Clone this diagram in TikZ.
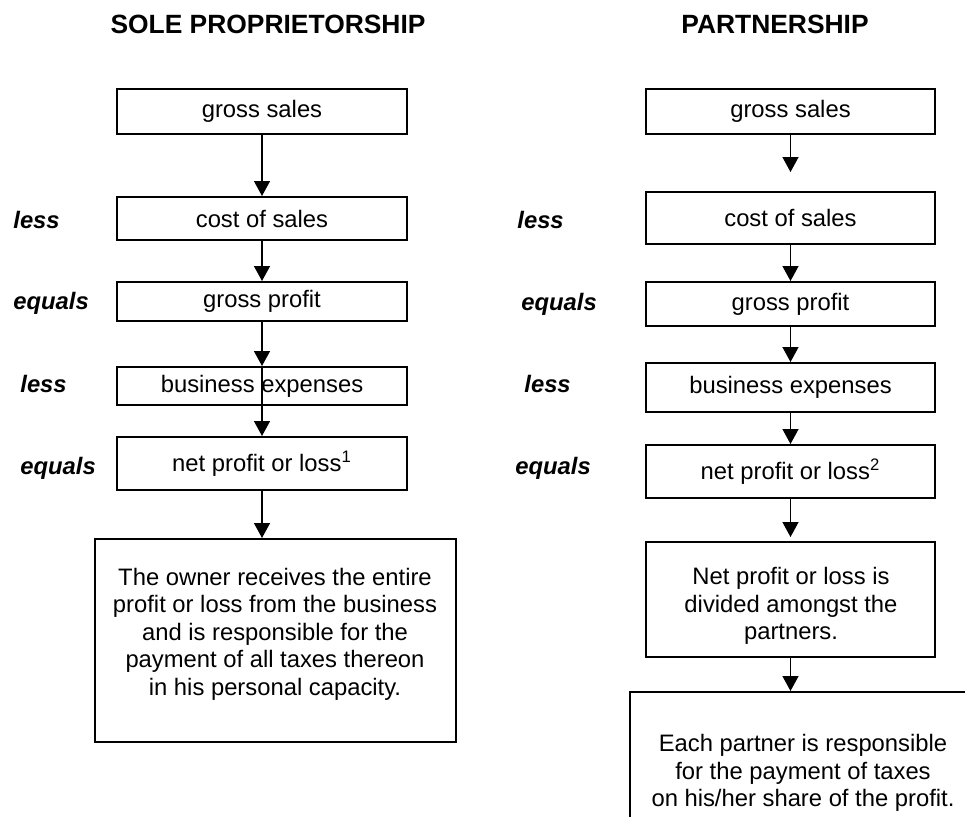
\documentclass[tikz,border=0pt]{standalone}
\usepackage{fontspec}
\setmainfont{Liberation Sans}
\usetikzlibrary{arrows.meta}
\begin{document}
\begin{tikzpicture}[x=0.5pt,y=-0.5pt,
  box/.style={draw,line width=1pt,inner sep=0pt,font=\fontsize{11.9}{13.75}\selectfont},
  txt/.style={inner sep=0pt,align=center,font=\fontsize{11.9}{13.75}\selectfont},
  lbl/.style={inner sep=0pt,anchor=base west,font=\fontsize{11.9}{13.75}\selectfont\bfseries\itshape},
  ttl/.style={inner sep=0pt,anchor=base,font=\fontsize{13.2}{15}\selectfont\bfseries},
  arr/.style={line width=0.7pt,-{Triangle[width=8pt,length=7.5pt]}}]
\useasboundingbox (0,0) rectangle (965,816);
\clip (0,0) rectangle (965,816);
% titles
\node[ttl] (tl) at (268,33) {SOLE PROPRIETORSHIP};
\node[ttl] (tr) at (775,33) {PARTNERSHIP};
% left column
\node[box,minimum width=145pt,minimum height=22.5pt] (lgs) at (262,111.5) {gross sales};
\node[box,minimum width=145pt,minimum height=21.5pt] (lcs) at (262,218.5) {cost of sales};
\node[box,minimum width=145pt,minimum height=19.5pt] (lgp) at (262,301.5) {gross profit};
\node[box,minimum width=145pt,minimum height=19pt] (lbe) at (262,386) {business expenses};
\node[box,minimum width=145pt,minimum height=26.5pt] (lnp) at (262,463.5) {net profit or loss\textsuperscript{1}};
\node[box,minimum width=180.5pt,minimum height=101.5pt] (lbig) at (275.5,640.5) {};
\node[txt] (lbigt) at (275,634) {The owner receives the entire\\profit or loss from the business\\and is responsible for the\\payment of all taxes thereon\\in his personal capacity.};
\node[lbl] (ll1) at (13,228) {less};
\node[lbl] (ll2) at (13,309) {equals};
\node[lbl] (ll3) at (20,392) {less};
\node[lbl] (ll4) at (20,474) {equals};
\draw[arr] (lgs.south) -- (lcs.north);
\draw[arr] (lcs.south) -- (lgp.north);
\draw[arr] (lgp.south) -- (lbe.north);
\draw[arr] (lbe.north) -- (lnp.north);
\draw[arr] (lnp.south) -- (lnp.south |- lbig.north);
% right column
\node[box,minimum width=144.5pt,minimum height=22.5pt] (rgs) at (790.5,111.5) {gross sales};
\node[box,minimum width=144.5pt,minimum height=26pt] (rcs) at (790.5,218) {cost of sales};
\node[box,minimum width=144.5pt,minimum height=22pt] (rgp) at (790.5,304) {gross profit};
\node[box,minimum width=144.5pt,minimum height=24.5pt] (rbe) at (790.5,387.5) {business expenses};
\node[box,minimum width=144.5pt,minimum height=26.5pt] (rnp) at (790.5,471.5) {net profit or loss\textsuperscript{2}};
\node[box,minimum width=144.5pt,minimum height=57.5pt] (rdiv) at (790.5,599.5) {};
\node[txt] (rdivt) at (791,606) {Net profit or loss is\\divided amongst the\\partners.};
\node[box,minimum width=185pt,minimum height=104pt] (rfin) at (815,796) {};
\node[txt] (rfint) at (803,773) {Each partner is responsible\\for the payment of taxes\\on his/her share of the profit.};
\node[lbl] (rl1) at (517,228) {less};
\node[lbl] (rl2) at (521,310) {equals};
\node[lbl] (rl3) at (524,392) {less};
\node[lbl] (rl4) at (515,474) {equals};
\coordinate (rt1) at (790.5,172);
\draw[arr] (rgs.south) -- (rt1);
\draw[arr] (rcs.south) -- (rgp.north);
\draw[arr] (rgp.south) -- (rbe.north);
\draw[arr] (rbe.south) -- (rnp.north);
\draw[arr] (rnp.south) -- ([yshift=2pt]rdiv.north);
\draw[arr] (rdiv.south) -- (rdiv.south |- rfin.north);
\end{tikzpicture}
\end{document}
